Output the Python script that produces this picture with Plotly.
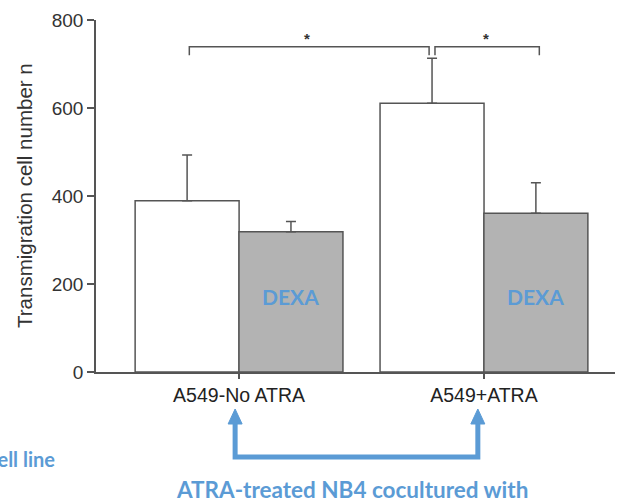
import plotly.graph_objects as go

categories = ["A549-No ATRA", "A549+ATRA"]
control_values = [389, 611]
control_err = [104, 102]
dexa_values = [319, 361]
dexa_err = [23, 69]
y_ticks = [0, 200, 400, 600, 800]

AX = "#555555"
BLUE = "#5b9bd5"
GRAY = "#b3b3b3"
off = 0.212
bw = 0.4245
xs = [0, 1]

fig = go.Figure()
fig.add_trace(go.Bar(
    x=[x - off for x in xs], y=control_values, width=bw,
    marker=dict(color="white", line=dict(color=AX, width=1.5)),
    error_y=dict(type="data", symmetric=False, array=control_err,
                 arrayminus=[0, 0], color=AX, thickness=1.5, width=5),
    showlegend=False, hoverinfo="skip"))
fig.add_trace(go.Bar(
    x=[x + off for x in xs], y=dexa_values, width=bw,
    marker=dict(color=GRAY, line=dict(color=AX, width=1.5)),
    error_y=dict(type="data", symmetric=False, array=dexa_err,
                 arrayminus=[0, 0], color=AX, thickness=1.5, width=5),
    showlegend=False, hoverinfo="skip"))

shapes = []
# significance brackets
for x0, x1 in [(-0.203, 0.776), (0.80, 1.226)]:
    shapes.append(dict(type="path", xref="x", yref="y",
                       path=f"M {x0},720 L {x0},739 L {x1},739 L {x1},720",
                       line=dict(color=AX, width=1.5)))

# blue arrows (paper y)
def py(p):
    return (372 - p) / 352.0

xl, xr = -0.016, 0.975
shapes.append(dict(type="path", xref="x", yref="paper",
                   path=f"M {xl},{py(422)} L {xl},{py(457)} L {xr},{py(457)} L {xr},{py(422)}",
                   line=dict(color=BLUE, width=5)))
hw = 7 / 245.0
for xc in (xl, xr):
    shapes.append(dict(type="path", xref="x", yref="paper",
                       path=f"M {xc - hw},{py(424)} L {xc},{py(409)} L {xc + hw},{py(424)} Z",
                       fillcolor=BLUE, line=dict(color=BLUE, width=1)))

annotations = [
    dict(x=0.276, y=757, xref="x", yref="y", text="<b>*</b>", showarrow=False,
         font=dict(size=15, color="#333", family="Liberation Sans, Arial")),
    dict(x=1.008, y=757, xref="x", yref="y", text="<b>*</b>", showarrow=False,
         font=dict(size=15, color="#333", family="Liberation Sans, Arial")),
    dict(x=0 + off, y=171, xref="x", yref="y", text="<b>DEXA</b>", showarrow=False,
         font=dict(size=21, color=BLUE, family="Lato")),
    dict(x=1 + off, y=171, xref="x", yref="y", text="<b>DEXA</b>", showarrow=False,
         font=dict(size=21, color=BLUE, family="Lato")),
    dict(x=(352 - 96) / 519.0, y=py(489), xref="paper", yref="paper",
         text="<b>ATRA-treated NB4 cocultured with</b>", showarrow=False,
         xanchor="center", yanchor="middle",
         font=dict(size=22.5, color=BLUE, family="Lato")),
    dict(x=(57 - 96) / 519.0, y=py(459), xref="paper", yref="paper",
         text="<b>cell line</b>", showarrow=False,
         xanchor="right", yanchor="middle",
         font=dict(size=20, color=BLUE, family="Lato")),
    dict(x=(24 - 96) / 519.0, y=0.5, xref="paper", yref="paper",
         text="Transmigration cell number n", showarrow=False, textangle=-90,
         xanchor="center", yanchor="middle",
         font=dict(size=20.5, color="#333", family="Liberation Sans, Arial")),
]

fig.update_layout(
    width=618, height=498,
    margin=dict(l=96, r=3, t=20, b=126, pad=0),
    paper_bgcolor="white", plot_bgcolor="white",
    shapes=shapes, annotations=annotations,
    xaxis=dict(range=[-0.584, 1.535], tickvals=xs, ticktext=categories,
               ticks="outside", ticklen=5, tickwidth=1.5, tickcolor=AX,
               showline=True, linecolor=AX, linewidth=1.5,
               showgrid=False, zeroline=False,
               tickfont=dict(size=19.5, color="#222", family="Liberation Sans, Arial")),
    yaxis=dict(range=[0, 800], tickvals=y_ticks,
               ticks="outside", ticklen=7, tickwidth=1.5, tickcolor=AX,
               showline=True, linecolor=AX, linewidth=1.5,
               showgrid=False, zeroline=False,
               tickfont=dict(size=19, color="#333", family="Liberation Sans, Arial")),
)

fig.write_html("out.html", config={"displayModeBar": False},
               post_script="document.body.style.margin='0';document.body.style.overflow='hidden';")
